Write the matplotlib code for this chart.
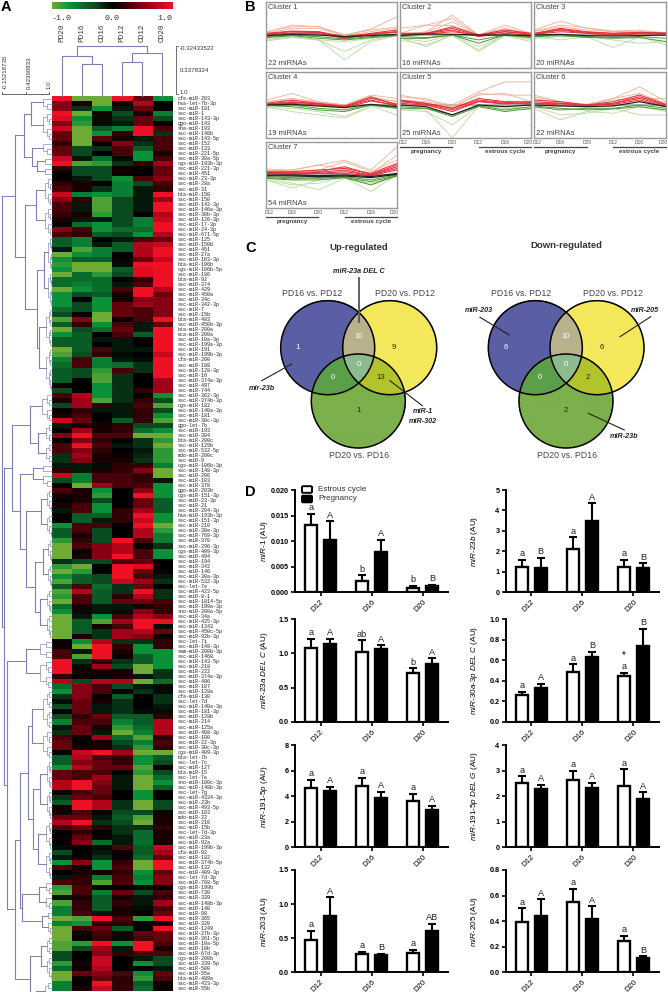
import numpy as np
import matplotlib
matplotlib.use("Agg")
import matplotlib.pyplot as plt
from matplotlib.colors import LinearSegmentedColormap
from matplotlib.patches import Circle, FancyBboxPatch

plt.rcParams["font.family"] = ["Liberation Sans", "DejaVu Sans"]
plt.rcParams["mathtext.fontset"] = "custom"
plt.rcParams["mathtext.rm"] = "Liberation Sans"
plt.rcParams["mathtext.it"] = "Liberation Sans:italic"

W, H = 668, 992

# --- A: heatmap ---
column_labels = ["PD20", "PD16", "CD16", "PD12", "CD12", "CD20"]
mirna_labels = [
    "cfa-miR-203", "hsa-let-7b-3p", "ssc-miR-181", "ssc-miR-1", "ssc-miR-143-3p", "ggo-miR-143",
    "sha-miR-193", "ssc-miR-146b", "ssc-miR-143-5p", "ssc-miR-152", "ssc-miR-133", "ssc-miR-221-5p",
    "ssc-miR-30a-5p", "cgs-miR-193b-3p", "ssc-miR-221-3p", "ssc-miR-451", "ssc-miR-23-3p", "ssc-miR-28a",
    "ssc-miR-31", "bta-miR-150", "ssc-miR-150", "ssc-miR-142-3p", "ssc-miR-146a-3p", "ssc-miR-30b-3p",
    "ssc-miR-126-3p", "ssc-miR-17-3p", "ssc-miR-24-3p", "ssc-miR-671-5p", "ssc-miR-125", "ssc-miR-150b",
    "ssc-miR-451", "ssc-miR-27a", "ssc-miR-163-3p", "bta-miR-106b", "cgs-miR-106b-5p", "ssc-miR-186",
    "bta-miR-92", "ssc-miR-374", "ssc-miR-429", "ssc-miR-450a", "ssc-miR-34c", "ssc-miR-342-3p",
    "ssc-miR-7", "ssc-miR-15b", "bta-miR-483", "ssc-miR-450b-3p", "bta-miR-200a", "eca-miR-200a",
    "ssc-miR-10a-3p", "ssc-miR-199a-3p", "ssc-miR-191", "ssc-miR-199b-3p", "cfa-miR-200", "ssc-miR-188",
    "ssc-miR-128-3p", "ssc-miR-16", "ssc-miR-374a-3p", "ssc-miR-497", "ssc-miR-744", "ssc-miR-362-3p",
    "ssc-miR-374b-3p", "cgs-miR-182", "ssc-miR-140a-3p", "ssc-miR-181", "ssc-miR-30c-3p", "ggo-let-7b",
    "ssc-miR-193", "ssc-miR-304", "bta-miR-200c", "ssc-miR-129b", "ssc-miR-532-5p", "mdo-miR-200c",
    "ssc-miR-9", "cgs-miR-106b-3p", "ssc-miR-148-3p", "ssc-miR-206", "ssc-miR-103", "ssc-miR-370",
    "ggo-miR-203b", "cgs-miR-151-3p", "ssc-miR-23-3p", "ssc-miR-21", "ssc-miR-204-3p", "hsa-miR-193b-3p",
    "ssc-miR-151-3p", "ssc-miR-210", "ssc-miR-30e-3p", "ssc-miR-769-3p", "ssc-miR-370", "ssc-miR-296-3p",
    "cgs-miR-409-3p", "ssc-miR-494", "ssc-miR-194", "ssc-miR-342", "ssc-miR-146", "ssc-miR-30a-3p",
    "ssc-miR-532-3p", "ssc-let-7e", "ssc-miR-423-5p", "ssc-miR-8-1", "ssc-miR-1814-5p", "ssc-miR-199a-3p",
    "sno-miR-200a-5p", "ssc-miR-34a", "ssc-miR-425-3p", "ssc-miR-1343", "ssc-miR-450c-5p", "ssc-miR-92b-3p",
    "ssc-let-7i", "ssc-miR-148-3p", "sam-miR-200b-3p", "ssc-miR-1468", "ssc-miR-143-5p", "ssc-miR-218",
    "ssc-miR-222", "ssc-miR-374a-3p", "ssc-miR-486", "ssc-miR-107", "ssc-miR-128a", "cfa-miR-130",
    "ssc-let-7d", "ssc-miR-140a-3p", "ssc-miR-181-3p", "ssc-miR-128b", "ssc-miR-214", "ssc-miR-125a",
    "ssc-miR-408-3p", "ssc-miR-100", "ssc-miR-22-3p", "ssc-miR-30c-3p", "cgs-miR-409-3p", "bta-let-7b",
    "ssc-let-7c", "ssc-miR-127", "bta-miR-15", "ssc-let-7a", "sno-miR-100c-3p", "ssc-miR-148b-3p",
    "ssc-let-7g", "ssc-miR-4334-3p", "ssc-miR-23b", "ssc-miR-493-5p", "ssc-miR-103", "mdo-miR-22",
    "ssc-miR-210", "ssc-miR-15b", "ssc-let-7d-3p", "ssc-miR-23a", "ssc-miR-92a", "ssc-miR-199b-3p",
    "cfa-miR-92", "ssc-miR-182", "ssc-miR-374b-5p", "ssc-miR-132", "ssc-miR-409-3p", "ssc-let-7d-3p",
    "ssc-miR-708-5p", "cgs-miR-199b", "ssc-miR-730", "ssc-miR-339", "ssc-miR-148b-3p", "ssc-miR-140",
    "ssc-miR-98", "ssc-miR-365", "ssc-miR-320", "ssc-miR-1249", "ssc-miR-27b-3p", "ssc-miR-361-5p",
    "ssc-miR-10a-5p", "ssc-miR-10b", "ssc-miR-67d-3p", "cgs-miR-200b", "ssc-miR-339-5p", "ssc-miR-500",
    "ssc-miR-55a", "bta-miR-489a", "ssc-miR-423-3p", "ssc-miR-55b",
]
heat_values = [
    [1, -1, -1, 1, .4, -.7], [.5, .1, -1, .1, .7, 0], [.5, -.2, -.7, -.1, .4, 0], [1, -1, .1, -.3, .1, -.6],
    [.9, -.7, -.05, -.2, .4, -.3], [.5, -.8, -.05, -.1, .4, 0], [.8, -1, -.4, -.6, 1, .3], [.4, -1, -.7, .2, 1, -.2],
    [.4, -1, .35, .1, -.1, .3], [.2, -1, 0, .5, -.2, .3], [.4, -.3, -.2, .3, -.4, .3], [.4, -.3, 0, .3, -.7, .1],
    [.8, -.1, -.5, -.05, -.7, .3], [1, -.9, -.8, -.2, .2, .6], [.2, -.3, -.3, .05, 0, .4], [0, -.3, -.3, .05, 0, .4],
    [0, -.1, -.3, -.7, .3, .5], [.2, .1, 0, -.6, -.3, .3], [.3, .1, -.2, -.6, -.1, .2], [.8, -.6, -.7, -.6, -.1, 1],
    [.5, .2, -.9, -.3, -.1, .6], [.3, -.1, -.9, -.3, -.1, 1], [.3, -.1, -.9, -.3, -.1, 1], [.2, .1, -.8, -.3, 0, .7],
    [.1, -.1, -.1, -.3, -.6, .8], [0, -.5, -.7, -.3, -.6, 1], [.5, .3, -.7, -.5, -.5, 1], [.3, .2, -.4, -.3, -.7, .7],
    [-.4, -.6, 0, -.1, .3, .4], [-.4, -.6, -.1, -.4, .7, .8], [-.1, -.9, -.6, -.4, .7, 1], [-1, -.7, -.6, 0, .7, 1],
    [-.7, -.4, -.4, .05, .4, .8], [-.8, -1, -1, -.05, 1, 1], [-.7, -1, -1, -.4, .9, 1], [-1, -.5, -.8, -.3, .9, 1],
    [-.5, -.5, -.5, 0, .2, 1], [-.5, -.6, -.5, -.1, .3, 1], [-1, -.7, -.5, .3, 1, .7], [-.7, -.3, -.4, .1, 1, .4],
    [-.7, 0, -.7, .1, .5, .5], [-.7, -.3, -.7, .4, .6, .5], [-.5, -.3, -.7, .4, .3, .5], [-.3, 0, -1, .4, .3, .5],
    [-.9, .5, -1, 0, .3, 1], [-.4, .2, -.7, .3, -.1, .4], [-1, -.3, -.5, .4, -.1, 1], [-.7, -.4, 0, .3, -.4, 1],
    [-.4, -.4, -.1, -.1, 0, 1], [-.4, -.4, 0, -.1, 0, 1], [-1, -.4, .3, -.1, -.1, 1], [-.9, -.3, .2, -.05, 0, .8],
    [-.6, .3, -.6, -.1, -.05, 1], [-.5, .3, -.6, -.5, -.2, 1], [-.4, -.3, -.8, .3, -.2, 1], [-.4, -.3, -.9, -.2, 0, 1],
    [-.4, 0, -.9, -.2, 0, .6], [.05, 0, -.7, -.2, 0, .6], [-.3, 0, -.7, -.2, .2, .6], [.3, .7, -.7, -.2, 0, -.7],
    [.1, .6, -.9, -.2, .2, -.3], [-.3, .6, .2, -.1, .3, -.9], [0, .2, -.1, -.1, .2, -.3], [.1, .3, 0, -.1, .2, -.7],
    [.8, .4, 0, -.4, .2, -.9], [-.1, .1, .1, .2, -.3, -.3], [0, .6, .1, .2, -.5, -.7], [.5, 1, .3, .3, -1, -1],
    [0, .5, .2, 0, -.2, -.8], [.3, 1, .3, -.1, -.2, -1], [.3, .5, .2, 0, -.1, -.8], [-.2, .6, .1, .05, -.15, -.8],
    [-.2, .5, .1, .1, -.2, -.8], [-.1, -.1, -.05, .2, .2, -.6], [.2, -.1, .1, .2, .5, -1], [.8, -.6, .3, .3, .2, -1],
    [-.3, -.6, .3, .3, .2, -.1], [0, -1, .6, .3, .3, -.7], [.3, .1, -.7, 0, .5, -.7], [.1, .1, -.8, 0, 1, -.7],
    [0, .1, -.3, 0, .4, -.4], [.1, .3, -.7, 0, .4, -.4], [-.1, .3, -.7, .2, .6, -.4], [0, -.4, -.4, .2, 1, -.7],
    [0, -.4, -.1, .2, .8, -.7], [-.7, .3, .3, 0, 1, -1], [-.4, .3, -.3, 0, .7, -.8], [-.4, .1, -.3, 0, .7, -.6],
    [-.8, .2, -.3, 1, .3, -.6], [-1, .3, .5, .7, 0, -.2], [-1, .05, .5, .7, .3, -.7], [-1, .1, .5, 1, .3, -.7],
    [-.2, -.3, -.3, .3, .4, 0], [-.8, -1, 0, 1, .9, 0], [-1, -.8, 0, 1, .4, .05], [-.7, -.4, -.3, 1, .3, -.1],
    [-.9, -.4, -.3, .8, .6, -.2], [-.4, .3, -.5, -.2, .4, 0], [-.9, .7, -.4, -.2, 1, -.2], [-.8, .3, -.4, .2, .7, -.2],
    [-1, .3, -.4, .4, .4, .3], [-.5, .1, -.1, -.1, .1, .2], [-.7, -.05, -.1, -.05, .5, .2], [-1, -.1, -.7, .3, .7, .5],
    [-1, -.4, -.9, .6, 1, 1], [-1, -.4, .1, .3, 1, -.05], [-1, -.4, -.2, .6, .7, .4], [-1, .1, -.2, .6, .5, .05],
    [.05, -.7, .7, -.2, -.2, .2], [.05, -1, 1, .2, -.7, .2], [.3, -.1, 1, .1, -.7, -.7], [.3, -.9, 1, .05, -.4, -.7],
    [1, -.2, .2, -.2, -.4, -.7], [1, -.05, .6, -.3, -1, -.7], [1, .1, .1, .1, -1, -.2], [.2, .05, 0, .1, -.1, -.2],
    [.7, -.3, .7, .7, -1, -.5], [-.5, .5, .3, -.3, -.1, -.05], [-.7, .5, .3, .05, -.2, -.05], [-.2, .5, .05, -.4, 0, -.2],
    [-.05, .4, .1, -.2, 0, -.2], [-.3, .4, -.1, -.2, 0, -.1], [.02, .4, -.1, -.2, -.05, -.05], [-.3, .2, .4, -.4, -.4, .2],
    [-.6, .3, .3, -.6, -.4, .7], [-.1, .4, .1, -.8, -.5, .7], [-.2, .4, -.1, -1, -.6, .7], [.3, .05, .6, -.5, -.9, .2],
    [.4, 0, .1, -.3, -.6, .3], [.4, .1, .1, -.2, -.8, .2], [0, .8, 1, .6, -1, -1], [-.4, .7, .3, .2, -.7, -.4],
    [-.4, .5, .4, .2, -.7, -.3], [-.7, .7, .4, .4, -.9, .05], [.4, .3, .3, 0, -.8, -.3], [.4, .3, .6, -.1, -1, -.5],
    [.7, 1, .5, -.1, -1, -.7], [.7, 1, .4, -.1, -1, -.4], [.05, .3, .4, 0, -.7, 0], [-.2, .4, .3, 0, -.7, 0],
    [-.4, 1, .7, -.2, -1, -.3], [.05, 1, .7, -.2, -1, -.3], [.1, .3, 0, -.3, -.3, .05], [.4, .4, -.1, -.4, -.9, .1],
    [.7, 1, -.2, -.3, -1, .1], [.3, .4, .2, -.2, -.2, .2], [0, .2, 0, -.2, -.5, .1], [.05, .4, .05, -.1, -.5, .1],
    [0, .5, -.5, -.1, -.5, .1], [-.05, 0, -.05, .3, -.4, .8], [-.3, 0, -.1, 0, -.4, .6], [-.1, .05, -.2, .05, -.5, .4],
    [-.7, .5, -.7, .2, -1, 1], [.3, .05, -.7, .3, -1, 1], [0, .1, .05, .2, -.7, .4], [-.1, .2, -.6, .3, -.6, .5],
    [.3, .2, -.9, .3, -.7, .5], [-.8, .3, .05, .05, -.05, 0], [-.9, .3, -.6, .4, -.3, .3], [-.1, .1, -.4, .1, -.1, .2],
    [-.9, .2, -.4, .2, -.1, .6], [-.6, .2, -.4, .1, -.05, .3], [-.6, .3, -.1, .1, 0, .4], [-1, -.9, 1, .3, -.8, 1],
    [-.6, -.7, .2, .2, 0, .1], [-1, .3, .4, -.4, 0, 1], [-1, -.05, .3, .1, .4, .4], [-1, 0, .2, -.05, .3, .4],
    [-.9, -.8, 1, -.7, 1, .3], [-.9, -.3, .6, -.1, 1, .1], [-.3, 0, .5, .2, .3, .3], [-.3, 0, .8, 0, -.1, -.3],
    [-.8, .1, .8, 0, -.7, -.3], [-.5, .05, .7, 0, 0, -.1], [-1, .4, .5, .3, -.7, .4], [-1, .05, .4, .2, -.8, .3],
    [-.6, 0, 1, .2, -.4, .05], [-.6, .1, .8, .2, -.5, .05],
]

# column dendrogram: merge heights in px
col_tree = (46, (56, 0, (64, 1, 2)), (53, (62, 3, 4), 5))

# row dendrogram: (x, children...) and an int is a block of that many rows
row_tree = (1.7,
    (15,
        (24, (31, 3, 6), (32, 3, (37, 2, 2))),
        (24.5, (36, 6, 6), (37, (44, 7, 7), (39, 8, 9)))),
    (3.5,
        (12,
            (30, 6, (38, 4, 4)),
            (20, (33, 2, 3), (26, (41, 5, 5), (35, (43, 5, 5), (40, 5, 5))))),
        (7,
            (26, 4, 6),
            (15,
                (20,
                    (28, (32, 8, 6), (33, (40, 6, 6), (38, 6, 6))),
                    (22, (39, 3, 3), (42, 2, 3))),
                (30, (41, 4, 5), (36, 4, 4))))))

# --- B: cluster profiles (D12 D16 D20 D12 D16 D20) ---
cluster_counts = [22, 16, 20, 19, 25, 22, 54]
cluster1 = dict(
    pale=[[.08, .3, .25, 0, .18, .55], [.1, .25, .25, 0, .15, .25], [.05, .2, .2, -.02, .1, .2]],
    red=[[.05, .12, .1, -.05, .05, .15], [.03, .1, .1, -.08, .03, .1], [.02, .06, .08, -.1, .02, .08], [0, .05, .05, -.1, .02, .1]],
    black=[[-.02, .02, 0, -.05, -.02, .02]],
    green=[[-.05, 0, -.05, -.12, -.05, 0], [-.08, -.02, -.1, -.15, -.08, -.02]],
    lime=[[-.1, -.05, -.15, -.2, -.1, 0], [-.15, -.05, -.15, -.5, -.15, 0], [-.18, -.08, -.15, -.75, -.2, -.02]])
cluster2 = dict(
    pale=[[.2, .3, .28, 0, .3, .05], [0, .1, .6, 0, .15, .05], [.05, .3, .5, 0, .2, 0], [.05, .08, .4, 0, .2, .05]],
    red=[[.05, .05, .25, 0, .15, .05], [.03, .05, .2, -.02, .1, .03], [.02, .03, .1, 0, .1, .02], [0, .05, .15, -.05, .05, 0]],
    black=[[-.02, .03, .02, 0, 0, -.02]],
    green=[[-.05, -.08, 0, -.15, 0, -.05], [-.1, -.1, 0, -.25, 0, -.08]],
    lime=[[-.1, -.2, 0, -.35, -.02, -.1], [-.15, -.3, -.02, -.45, 0, -.15], [-.08, -.35, 0, -.5, -.02, -.2]])
cluster3 = dict(
    pale=[[.15, .42, .2, .12, .15, .05], [.12, .3, .22, .1, .1, .08], [.1, .25, .15, .1, .1, .05]],
    red=[[.05, .2, .1, .05, .08, .06], [.04, .17, .08, .05, .07, .05], [.02, .15, .05, .02, .05, .05], [.02, .1, .05, 0, .03, .03]],
    black=[[0, .02, -.02, -.03, -.02, 0]],
    green=[[-.03, 0, -.05, -.08, -.05, -.1], [-.05, -.02, -.07, -.1, -.08, -.2]],
    lime=[[-.05, -.15, -.05, -.38, -.05, -.3], [-.1, -.05, -.05, -.15, -.25, -.2]])
cluster4 = dict(
    pale=[[.15, .35, .1, 0, .3, .2], [.1, .2, .1, 0, .25, .1], [.1, .15, .08, -.02, .2, .12]],
    red=[[.05, .15, .05, -.03, .2, .03], [.03, .1, .03, -.05, .25, 0], [.02, .08, .03, -.05, .15, -.03], [.02, .05, 0, -.08, .12, 0]],
    black=[[0, .02, -.03, -.08, .02, -.05]],
    green=[[-.02, 0, -.1, -.15, 0, -.1], [-.02, -.05, -.15, -.2, 0, -.08]],
    lime=[[-.05, -.2, -.3, -.4, -.05, -.1], [-.08, -.1, -.2, -.35, -.03, -.3]])
cluster5 = dict(
    pale=[[.3, .15, 0, .4, .7, .7], [.25, .2, -.1, .35, .3, .3], [.15, .1, -.05, .3, .35, .1]],
    red=[[.15, .05, -.1, .2, .1, .1], [.12, .05, -.1, .15, .08, .05], [.1, .02, -.15, .12, .05, .03], [.05, 0, -.2, .1, .03, .08]],
    black=[[0, -.05, -.3, 0, -.05, 0]],
    green=[[-.05, -.1, -.3, -.02, -.15, -.05], [-.1, -.1, -.35, -.05, -.2, -.1]],
    lime=[[-.15, -.2, -.6, -.02, -.1, -.15], [-.12, -.15, -1, -.02, -.05, -.1]])
cluster6 = dict(
    pale=[[.3, .1, 0, .2, .55, .1], [.25, .1, .02, .15, .2, .2], [.2, .05, .02, .2, .35, .05]],
    red=[[.15, .1, 0, .1, .3, .02], [.1, .05, 0, .05, .25, 0], [.05, .05, -.02, .05, .2, -.02], [.05, 0, 0, .02, .15, -.05]],
    black=[[0, -.03, -.05, -.03, .1, -.05]],
    green=[[-.05, -.15, -.1, -.1, 0, -.1], [-.03, -.1, -.15, -.12, -.05, -.15]],
    lime=[[-.1, -.45, -.2, -.25, -.05, -.2], [-.05, -.3, -.25, -.1, -.3, -.3]])
cluster7 = dict(
    pale=[[.18, .15, .3, .45, .15, .85], [.15, .12, .15, .4, .1, .45], [.12, .15, .3, .2, .05, .6]],
    red=[[.1, .1, .15, .2, .05, .35], [.08, .08, .1, .25, .02, .3], [.08, .05, .08, .15, 0, .25], [.05, .05, .05, .1, 0, .2], [.05, .02, .05, .05, -.02, .15]],
    black=[[0, 0, -.02, 0, -.05, .05], [-.02, -.03, -.05, -.03, -.08, .02]],
    green=[[-.05, -.08, -.1, -.05, -.15, 0], [-.08, -.12, -.08, -.08, -.2, -.03], [-.1, -.15, -.15, -.08, -.3, -.02]],
    lime=[[-.15, -.4, -.15, -.08, -.5, 0], [-.1, -.25, -.45, -.1, -.25, -.05], [-.15, -.3, -.25, -.05, -.3, -.02]])
clusters = [cluster1, cluster2, cluster3, cluster4, cluster5, cluster6, cluster7]
profile_ticks = ["D12", "D16", "D20", "D12", "D16", "D20"]

# --- C: venn counts: only A, A&B, only B, centre, A&C, B&C, only C ---
venn_up = [1, 10, 9, 0, 0, 13, 1]
venn_down = [6, 10, 6, 0, 0, 2, 2]

# --- D: bars ---
days = ["D12", "D16", "D20"]
bar_names = ["miR-1", "miR-23b", "miR-23a DEL C", "miR-30a-3p DEL C",
             "miR-191-5p", "miR-191-5p DEL G", "miR-203", "miR-205"]
estrous = [[.0132, .0023, .0009], [1.25, 2.12, 1.25], [1.08, 1.02, .72], [.26, .49, .45],
           [4.6, 4.8, 3.65], [2.5, 2.62, 2.38], [.47, .27, .29], [.395, .55, .245]]
estrous_top = [[.0154, .0033, .0012], [1.58, 2.68, 1.6], [1.21, 1.19, .78], [.29, .56, .48],
               [5.3, 5.45, 4.2], [2.77, 3.0, 3.05], [.61, .3, .33], [.5, .655, .285]]
pregnancy = [[.0102, .0079, .0012], [1.18, 3.48, 1.2], [1.14, 1.06, .84], [.33, .63, .74],
             [4.4, 3.85, 2.95], [2.27, 2.3, 1.9], [.83, .26, .61], [.44, .415, .115]]
pregnancy_top = [[.0139, .0103, .0014], [1.67, 4.35, 1.42], [1.21, 1.12, .93], [.37, .68, .91],
                 [4.75, 4.35, 3.25], [2.45, 2.52, 2.15], [1.1, .27, .71], [.57, .515, .125]]
estrous_letters = [["a", "b", "b"], ["a", "a", "a"], ["a", "ab", "b"], ["a", "a", "a"],
                   ["a", "a", "a"], ["a", "a", "a"], ["a", "a", "a"], ["a", "a", "a"]]
pregnancy_letters = [["A", "A", "B"], ["B", "A", "B"], ["A", "A", "A"], ["A", "B", "B"],
                     ["A", "A", "A"], ["A", "A", "A"], ["A", "B", "AB"], ["A", "A", "B"]]
y_tops = [.020, 5, 1.5, 1.0, 8, 4, 1.5, .8]
y_tick_steps = [.005, 1, .5, .2, 2, 1, .5, .2]
y_tick_fmt = ["%.3f", "%d", "%.1f", "%.1f", "%d", "%d", "%.1f", "%.1f"]


def px_axes(x0, y0, x1, y1):
    return fig.add_axes([x0 / W, 1 - y1 / H, (x1 - x0) / W, (y1 - y0) / H])


fig = plt.figure(figsize=(W / 100, H / 100), dpi=100)
over = fig.add_axes([0, 0, 1, 1], zorder=10)
over.patch.set_alpha(0)
over.axis("off")

heat_cmap = LinearSegmentedColormap.from_list("heat", [
    (0, "#6eab35"), (.15, "#0a9038"), (.35, "#0a4a20"), (.5, "#000000"),
    (.65, "#4a0008"), (.8, "#a00018"), (1, "#f01025")])

HX0, HX1, HY0, HY1 = 52, 172.5, 96, 991
ax = px_axes(HX0, HY0, HX1, HY1)
ax.imshow(np.array(heat_values), cmap=heat_cmap, vmin=-1, vmax=1, aspect="auto", interpolation="nearest")
ax.axis("off")
row_h = (HY1 - HY0) / len(heat_values)
for i, name in enumerate(mirna_labels):
    over.text(178, HY0 + row_h * (i + .5), name, family="Liberation Mono", fontsize=3.6,
              va="center", ha="left", color="#222222")

cb = px_axes(HX0, 2, HX1, 9)
cb.imshow(np.linspace(-1, 1, 256)[None, :], cmap=heat_cmap, aspect="auto")
cb.axis("off")
for x, s in [(62, "-1.0"), (112, "0.0"), (165, "1.0")]:
    over.text(x, 18, s, family="Liberation Mono", fontsize=6, ha="center", va="center", color="#333333")
col_w = (HX1 - HX0) / 6
for i, name in enumerate(column_labels):
    over.text(HX0 + col_w * (i + .5), 42, name, family="Liberation Mono", fontsize=5.5, rotation=90,
              ha="center", va="bottom", color="#333333")

DENDRO = "#7d80b4"


def col_node(node):
    if isinstance(node, int):
        return HX0 + col_w * (node + .5), HY0
    y, a, b = node
    xa, ya = col_node(a)
    xb, yb = col_node(b)
    over.plot([xa, xa, xb, xb], [ya, y, y, yb], color=DENDRO, lw=.8)
    return (xa + xb) / 2, y


def row_block(start, k, x):
    # small rows block: split in two until single rows
    if k == 1:
        return HX0, HY0 + row_h * (start + .5)
    k1 = k // 2
    nx = x + (HX0 - x) * .45
    xa, ya = row_block(start, k1, nx)
    xb, yb = row_block(start + k1, k - k1, nx)
    over.plot([xa, x, x, xb], [ya, ya, yb, yb], color=DENDRO, lw=.45)
    return x, (ya + yb) / 2


row_cursor = 0


def row_node(node, parent_x):
    global row_cursor
    if isinstance(node, int):
        start = row_cursor
        row_cursor += node
        return row_block(start, node, parent_x + (HX0 - parent_x) * .55)
    x = node[0]
    pts = [row_node(c, x) for c in node[1:]]
    for px, py in pts:
        over.plot([x, px], [py, py], color=DENDRO, lw=.7)
    ys = [p[1] for p in pts]
    over.plot([x, x], [ys[0], ys[-1]], color=DENDRO, lw=.8)
    return x, (ys[0] + ys[-1]) / 2


col_node(col_tree)
row_node(row_tree, 0)

# scale bars of the dendrograms
over.plot([2, 49], [94, 94], color="#555555", lw=.6)
for x, s in [(2, "-0.15218735"), (26, "0.42390833"), (49, "1.0")]:
    over.plot([x, x], [92, 94], color="#555555", lw=.6)
    over.text(x + 3 if x < 49 else x, 89, s, rotation=90, fontsize=4.4, ha="center", va="bottom", color="#333333")
over.plot([178, 176, 176, 178], [46, 46, 94, 94], color="#555555", lw=.6)
for y, s in [(48, "-0.32433522"), (70, "0.3378324"), (93, "1.0")]:
    over.text(180, y, s, fontsize=4.4, ha="left", va="center", color="#333333")

# --- B ---
LINE_STYLE = [("lime", "#b9d9a0", .6), ("pale", "#f0b094", .6), ("green", "#4a9a30", .7),
              ("red", "#e8303a", .75), ("black", "#222222", .9)]
box_x = [(266, 397), (400, 531), (534, 666)]
box_y = [(2, 68), (72, 138), (142, 208)]
for i, cl in enumerate(clusters):
    row, col = i // 3, i % 3
    x0, x1 = box_x[col]
    y0, y1 = box_y[row]
    ax = px_axes(x0, y0, x1, y1)
    ax.set_xlim(0, 5)
    ax.set_ylim(-1, 1)
    ax.axhline(0, color="#b5b5b5", lw=1.4)
    for key, colour, lw in LINE_STYLE:
        for vals in cl[key]:
            ax.plot(range(6), vals, color=colour, lw=lw, clip_on=True)
    for s in ax.spines.values():
        s.set_color("#9a9a9a")
        s.set_linewidth(1.0)
    ax.set_xticks(range(6))
    ax.set_yticks([-.66, -.33, 0, .33, .66])
    ax.tick_params(length=1, width=.4, color="#888888", labelleft=False, labelbottom=False,
                   top=True, direction="in")
    over.text(x0 + 2, y0 + 5.5, f"Cluster {i + 1}", fontsize=5.3, color="#444444", ha="left", va="center")
    over.text(x0 + 2, y1 - 4.5, f"{cluster_counts[i]} miRNAs", fontsize=5.5, color="#444444", ha="left", va="center")

for col, row in [(1, 1), (2, 1), (0, 2)]:
    x0, x1 = box_x[col]
    y1 = box_y[row][1]
    step = (x1 - x0) / 5
    for j, s in enumerate(profile_ticks):
        over.text(min(max(x0 + j * step, x0 + 3), x1 - 3), y1 + 4, s, fontsize=3.5, color="#555555", ha="center", va="center")
    over.plot([x0, x0 + 2 * step], [y1 + 9, y1 + 9], color="#444444", lw=.9)
    over.plot([x0 + 3 * step, x1], [y1 + 9, y1 + 9], color="#444444", lw=.9)
    over.text(x0 + step, y1 + 14, "pregnancy", fontsize=4.5, weight="bold", color="#444444", ha="center", va="center")
    over.text(x0 + 4 * step, y1 + 14, "estrous cycle", fontsize=4.5, weight="bold", color="#444444", ha="center", va="center")

# --- C ---
REGION = {1: "#5a5fa5", 2: "#f4e85c", 4: "#7cb04c", 3: "#b9b28c", 5: "#5c9f4a", 6: "#b3c32c", 7: "#8dbb8f"}


def draw_venn(blue_x, yellow_x, green_x, counts):
    r = 47
    ytop, ybot = 347.7, 401
    gx, gy = np.meshgrid(np.arange(blue_x - 50, yellow_x + 50, .25), np.arange(ytop - 50, ybot + 50, .25))
    code = ((gx - blue_x) ** 2 + (gy - ytop) ** 2 <= r * r) * 1 \
        + ((gx - yellow_x) ** 2 + (gy - ytop) ** 2 <= r * r) * 2 \
        + ((gx - green_x) ** 2 + (gy - ybot) ** 2 <= r * r) * 4
    img = np.zeros(code.shape + (4,))
    for k, c in REGION.items():
        img[code == k] = matplotlib.colors.to_rgba(c)
    over.imshow(img, extent=(blue_x - 50, yellow_x + 50, ybot + 50, ytop - 50), aspect="auto", interpolation="antialiased")
    for cx, cy in [(blue_x, ytop), (yellow_x, ytop), (green_x, ybot)]:
        over.add_patch(Circle((cx, cy), r, fill=False, ec="black", lw=1.1))
    spots = [(blue_x - 30, ytop), ((blue_x + yellow_x) / 2, ytop - 11), (yellow_x + 4.5, ytop),
             ((blue_x + yellow_x) / 2, ytop + 17), (blue_x + 5, ytop + 30), (yellow_x - 9, ytop + 30), (green_x, ybot + 9)]
    tones = ["white", "white", "#222222", "white", "white", "#222222", "#222222"]
    for (x, y), n, tone in zip(spots, counts, tones):
        over.text(x, y, str(n), fontsize=5.6, color=tone, ha="center", va="center")


draw_venn(327.7, 389.7, 358.3, venn_up)
draw_venn(535.3, 597, 566, venn_down)

for x, y, s, size in [(359, 247.7, "Up-regulated", 6.8), (566.7, 245, "Down-regulated", 6.8)]:
    over.text(x, y, s, fontsize=size, weight="bold", color="#333333", ha="center", va="center")
for x, y, s in [(311.7, 293, "PD16 vs. PD12"), (404.7, 293, "PD20 vs. PD12"), (359, 456, "PD20 vs. PD16"),
                (520.7, 293, "PD16 vs. PD12"), (612.7, 293, "PD20 vs. PD12"), (567, 456, "PD20 vs. PD16")]:
    over.text(x, y, s, fontsize=6.3, color="#444444", ha="center", va="center")
for x, y, s in [(358.7, 271.7, "miR-23a DEL C"), (261.7, 388.3, "mir-23b"), (423.3, 411.7, "miR-1"),
                (423.3, 421.7, "miR-302"), (479, 310.7, "miR-203"), (645, 310.7, "miR-205"), (624.3, 436.7, "miR-23b")]:
    over.text(x, y, s, fontsize=5.2, style="italic", weight="bold", color="#222222", ha="center", va="center")
over.plot([359, 359], [278, 322], color="#555555", lw=1.3)
for xs, ys in [((261.7, 291.7), (380.7, 364)), ((390, 422.3), (380.7, 405.7)), ((480, 509.3), (317.3, 335)),
               ((650.7, 620), (316.7, 336.7)), ((624.3, 588.3), (430, 413.3))]:
    over.plot(xs, ys, color="#222222", lw=.8)

# --- D ---
col_x = [(295, 448), (505.7, 659)]
row_y = [(490, 592.3), (619.3, 721.7), (745, 847.3), (870, 972.3)]
for i, name in enumerate(bar_names):
    x0, x1 = col_x[i % 2]
    y0, y1 = row_y[i // 2]
    ax = px_axes(x0, y0, x1, y1)
    ax.patch.set_alpha(0)
    pos = np.arange(3)
    e_top = np.array(estrous_top[i]) - np.array(estrous[i])
    p_top = np.array(pregnancy_top[i]) - np.array(pregnancy[i])
    err = dict(ecolor="black", elinewidth=1.5, capsize=2.8, capthick=1.5)
    ax.errorbar(pos - .186, estrous[i], yerr=[np.zeros(3), e_top], fmt="none", **err)
    ax.errorbar(pos + .186, pregnancy[i], yerr=[np.zeros(3), p_top], fmt="none", **err)
    ax.bar(pos - .186, estrous[i], width=.235, color="white", edgecolor="black", lw=1.7, zorder=3)
    ax.bar(pos + .186, pregnancy[i], width=.235, color="black", edgecolor="black", lw=1.7, zorder=3)
    ax.set_xlim(-.5, 2.5)
    ax.set_ylim(0, y_tops[i])
    for j in range(3):
        ax.annotate(estrous_letters[i][j], (pos[j] - .186, estrous_top[i][j]), xytext=(0, 1.2), textcoords="offset points",
                    ha="center", va="bottom", fontsize=6.6, color="#222222", annotation_clip=False)
        ax.annotate(pregnancy_letters[i][j], (pos[j] + .186, pregnancy_top[i][j]), xytext=(0, 1.2), textcoords="offset points",
                    ha="center", va="bottom", fontsize=6.6, color="#222222", annotation_clip=False)
    if name == "miR-30a-3p DEL C":
        ax.text(2 - .186, .65, "*", fontsize=7, ha="center", va="center")
    for side in ("top", "right"):
        ax.spines[side].set_visible(False)
    for side in ("left", "bottom"):
        ax.spines[side].set_linewidth(1.4)
    yt = np.arange(0, y_tops[i] + y_tick_steps[i] / 2, y_tick_steps[i])
    ax.set_yticks(yt)
    ax.set_yticklabels([y_tick_fmt[i] % v for v in yt], fontsize=5.2, weight="bold")
    ax.set_xticks(pos)
    ax.set_xticklabels(days, fontsize=5.6, rotation=45, ha="right", rotation_mode="anchor")
    ax.tick_params(length=3, width=1.2, pad=1.5)
    parts = name.replace(" ", r"\ ").split("-")
    ax.set_ylabel("-".join("$\\mathit{%s}$" % p for p in parts) + " (AU)", fontsize=5.9, labelpad=0)
    ax.yaxis.set_label_coords(-.165, .5)

for y, face, s in [(489.5, "white", "Estrous cycle"), (499, "black", "Pregnancy")]:
    over.add_patch(FancyBboxPatch((303, y - 2.3), 8, 4.6, boxstyle="round,pad=1", fc=face, ec="black", lw=1.4))
    over.text(318.3, y, s, fontsize=5.9, color="#333333", ha="left", va="center")

for x, y, s in [(1, 7, "A"), (245, 7, "B"), (245, 247.5, "C"), (245, 492, "D")]:
    over.text(x, y, s, fontsize=10.5, weight="bold", ha="left", va="center", color="black")

over.set_xlim(0, W)
over.set_ylim(H, 0)
fig.savefig("out.png", dpi=100)
